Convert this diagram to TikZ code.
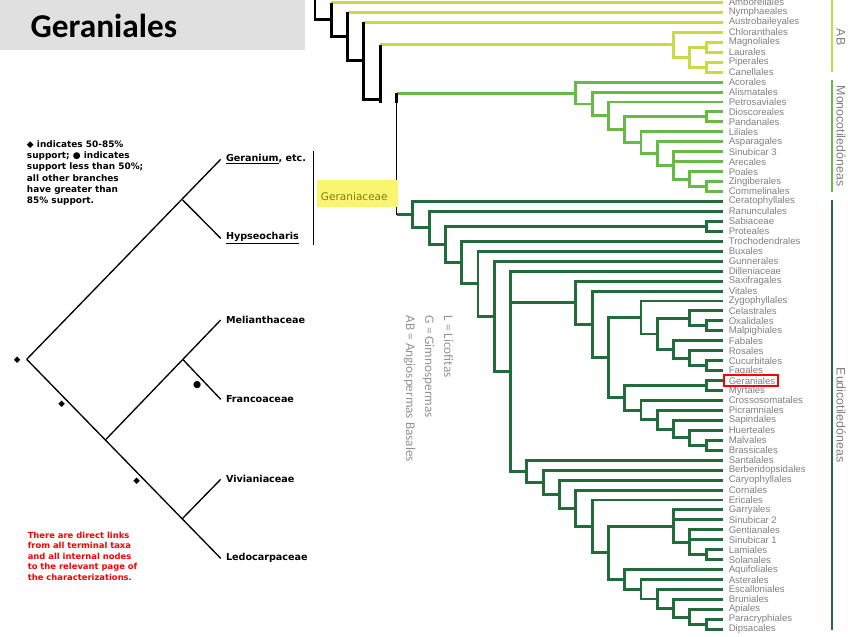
\documentclass[tikz,border=0pt]{standalone}
\usepackage{fontspec}
\setmainfont{Liberation Sans}
\newfontfamily\titlefont{Carlito}
\newfontfamily\verdfont{DejaVu Sans}
\definecolor{abcol}{RGB}{200,218,70}
\definecolor{monocol}{RGB}{104,186,72}
\definecolor{eudicol}{RGB}{34,108,60}
\definecolor{labelgray}{RGB}{128,128,128}
\definecolor{boxgray}{RGB}{224,224,224}
\definecolor{boxyellow}{RGB}{250,245,110}
\definecolor{olive}{RGB}{125,125,20}
\tikzset{
  taxon/.style = {anchor=west, inner xsep=4.5pt, inner ysep=0pt,
    font=\fontsize{7.2}{7.2}\selectfont, text=labelgray},
  ab/.style = {draw=abcol, line width=2.2pt},
  mono/.style = {draw=monocol, line width=2.2pt},
  eudi/.style = {draw=eudicol, line width=2.2pt},
  stem/.style = {draw=black, line width=2.2pt},
  cladelabel/.style = {rotate=-90, text=labelgray, font=\fontsize{9.3}{9.3}\selectfont},
  keytext/.style = {rotate=-90, anchor=north west, align=left, text=labelgray!85,
    font=\titlefont\fontsize{9.9}{14.3}\selectfont},
  lefttaxon/.style = {anchor=west, inner xsep=3.8pt, font=\verdfont\bfseries\fontsize{7.2}{7.2}\selectfont},
  twig/.style = {draw=black, line width=1pt},
  supportmark/.style = {inner sep=0pt, font=\verdfont\fontsize{6.5}{6.5}\selectfont},
  smallnote/.style = {anchor=north west, align=left, inner sep=0pt,
    font=\verdfont\bfseries\fontsize{6.7}{8.5}\selectfont}
}

\begin{document}
\begin{tikzpicture}[x=0.75pt,y=-0.75pt]
  \useasboundingbox (0,0) rectangle (848,636);
  % title bar
  \fill[boxgray] (0,0) rectangle (305,50);
  \node[anchor=west, font=\titlefont\bfseries\fontsize{25}{25}\selectfont] (title) at (26,26) {Geraniales};

  % terminal taxa of the big tree
  \foreach \name [count=\i from 0] in {Amborellales,Nymphaeales,Austrobaileyales,Chloranthales,
    Magnoliales,Laurales,Piperales,Canellales,Acorales,Alismatales,Petrosaviales,Dioscoreales,
    Pandanales,Liliales,Asparagales,Sinubicar 3,Arecales,Poales,Zingiberales,Commelinales,
    Ceratophyllales,Ranunculales,Sabiaceae,Proteales,Trochodendrales,Buxales,Gunnerales,
    Dilleniaceae,Saxifragales,Vitales,Zygophyllales,Celastrales,Oxalidales,Malpighiales,
    Fabales,Rosales,Cucurbitales,Fagales,Geraniales,Myrtales,Crossosomatales,Picramniales,
    Sapindales,Huerteales,Malvales,Brassicales,Santalales,Berberidopsidales,Caryophyllales,
    Cornales,Ericales,Garryales,Sinubicar 2,Gentianales,Sinubicar 1,Lamiales,Solanales,
    Aquifoliales,Asterales,Escalloniales,Bruniales,Apiales,Paracryphiales,Dipsacales}
    { \node[taxon] (t\i) at (722.5,2.5+9.95*\i) {\name}; }

  % inner nodes (column 315+16.3*k)
  \coordinate (N0) at (315,0);
  \coordinate (N1) at (315+16.3*1,19.6);
  \coordinate (N2) at (315+16.3*2,36.7);
  \coordinate (N3) at (315+16.3*3,60.9);
  \coordinate (N4) at (315+16.3*4,99.3);
  \coordinate (N4end) at (315+16.3*4,103);
  \coordinate (N5) at (315+16.3*5,153.9);
  \coordinate (M1) at (315+16.3*22,44.8);
  \coordinate (M2) at (315+16.3*23,57.25);
  \coordinate (M3) at (315+16.3*24,47.3);
  \coordinate (M4) at (315+16.3*24,67.2);
  \coordinate (MO1) at (315+16.3*16,93.05);
  \coordinate (MO2) at (315+16.3*17,104);
  \coordinate (MO3) at (315+16.3*18,115.9);
  \coordinate (MO4) at (315+16.3*19,129.8);
  \coordinate (MO5) at (315+16.3*24,116.9);
  \coordinate (MO6) at (315+16.3*20,142.7);
  \coordinate (MO7) at (315+16.3*21,153.6);
  \coordinate (MO8) at (315+16.3*22,165.4);
  \coordinate (MO9) at (315+16.3*23,179.1);
  \coordinate (MO10) at (315+16.3*24,186.6);
  \coordinate (E0) at (315+16.3*6,214.7);
  \coordinate (E1) at (315+16.3*7,227.9);
  \coordinate (E2) at (315+16.3*8,244.4);
  \coordinate (E2a) at (315+16.3*24,226.4);
  \coordinate (E3) at (315+16.3*9,262.5);
  \coordinate (E4) at (315+16.3*10,283.7);
  \coordinate (E5) at (315+16.3*11,316.2);
  \coordinate (E6) at (315+16.3*12,371.2);
  \coordinate (SR) at (315+16.3*16,302.7);
  \coordinate (SR2) at (315+16.3*17,324.4);
  \coordinate (R) at (315+16.3*18,357.7);
  \coordinate (FAB) at (315+16.3*20,317.5);
  \coordinate (FAB2) at (315+16.3*21,334);
  \coordinate (COM) at (315+16.3*23,318.4);
  \coordinate (COM2) at (315+16.3*24,325.9);
  \coordinate (NF) at (315+16.3*22,349.5);
  \coordinate (NF2) at (315+16.3*23,358.2);
  \coordinate (NF3) at (315+16.3*24,365.7);
  \coordinate (MAL) at (315+16.3*19,397.9);
  \coordinate (MAL1) at (315+16.3*24,385.6);
  \coordinate (MAL2) at (315+16.3*20,410.1);
  \coordinate (MAL3) at (315+16.3*21,419.8);
  \coordinate (MAL4) at (315+16.3*22,429.1);
  \coordinate (MAL5) at (315+16.3*23,437.8);
  \coordinate (MAL6) at (315+16.3*24,445.3);
  \coordinate (SA) at (315+16.3*13,471.2);
  \coordinate (SA2) at (315+16.3*14,482.2);
  \coordinate (SA3) at (315+16.3*15,494.2);
  \coordinate (AS) at (315+16.3*16,508.2);
  \coordinate (AS2) at (315+16.3*17,526.4);
  \coordinate (EA) at (315+16.3*18,552.8);
  \coordinate (LAM) at (315+16.3*22,526.1);
  \coordinate (LAM2) at (315+16.3*23,542.3);
  \coordinate (LAM3) at (315+16.3*24,554.7);
  \coordinate (CAM) at (315+16.3*19,579.5);
  \coordinate (CAM2) at (315+16.3*20,589.4);
  \coordinate (CAM3) at (315+16.3*21,599);
  \coordinate (CAM4) at (315+16.3*22,608.4);
  \coordinate (CAM5) at (315+16.3*23,617.1);
  \coordinate (CAM6) at (315+16.3*24,624.6);

  % basal angiosperms
  \draw[ab] (N1 |- t0.west) -- (t0.west);
  \draw[ab] (N2 |- t1.west) -- (t1.west);
  \draw[ab] (N3 |- t2.west) -- (t2.west);
  \draw[ab] (N4 |- M1) -- (M1);
  \foreach \p/\c in {M1/t3.west,M1/M2,M2/M3,M2/M4,M3/t4.west,M3/t5.west,M4/t6.west,M4/t7.west}
    { \draw[ab] (\p) |- (\c); }
  \draw[stem] (N0) |- (N1);
  \draw[stem] (N1 |- t0.west) |- (N2);
  \draw[stem] (N2 |- t1.west) |- (N3);
  \draw[stem] (N3 |- t2.west) |- (N4);
  \draw[stem] (N4 |- M1) -- (N4end);

  % monocots
  \draw[mono] (N5 |- MO1) -- (MO1);
  \foreach \p/\c in {MO1/t8.west,MO1/MO2,MO2/t9.west,MO2/MO3,MO3/t10.west,MO3/MO4,MO4/MO5,
    MO4/MO6,MO5/t11.west,MO5/t12.west,MO6/t13.west,MO6/MO7,MO7/t14.west,MO7/MO8,MO8/t15.west,
    MO8/t16.west,MO8/MO9,MO9/t17.west,MO9/MO10,MO10/t18.west,MO10/t19.west}
    { \draw[mono] (\p) |- (\c); }

  % eudicots
  \draw[eudi] (N5 |- E0) -- (E0);
  \foreach \p/\c in {E0/t20.west,E0/E1,E1/t21.west,E1/E2,E2/E2a,E2/E3,E2a/t22.west,E2a/t23.west,
    E3/t24.west,E3/E4,E4/t25.west,E4/E5,E5/t26.west,E5/E6,E6/t27.west,E6/SR,E6/SA,SR/t28.west,
    SR/SR2,SR2/t29.west,SR2/R,R/FAB,R/MAL,FAB/t30.west,FAB/FAB2,FAB2/COM,FAB2/NF,COM/t31.west,
    COM/COM2,COM2/t32.west,COM2/t33.west,NF/t34.west,NF/NF2,NF2/t35.west,NF2/NF3,NF3/t36.west,
    NF3/t37.west,MAL/MAL1,MAL/MAL2,MAL1/t38.west,MAL1/t39.west,MAL2/t40.west,MAL2/MAL3,
    MAL3/t41.west,MAL3/MAL4,MAL4/t42.west,MAL4/MAL5,MAL5/t43.west,MAL5/MAL6,MAL6/t44.west,
    MAL6/t45.west,SA/t46.west,SA/SA2,SA2/t47.west,SA2/SA3,SA3/t48.west,SA3/AS,AS/t49.west,
    AS/AS2,AS2/t50.west,AS2/EA,EA/LAM,EA/CAM,LAM/t51.west,LAM/t52.west,LAM/LAM2,LAM2/t53.west,
    LAM2/t54.west,LAM2/LAM3,LAM3/t55.west,LAM3/t56.west,CAM/t57.west,CAM/CAM2,CAM2/t58.west,
    CAM2/CAM3,CAM3/t59.west,CAM3/CAM4,CAM4/t60.west,CAM4/CAM5,CAM5/t61.west,CAM5/CAM6,
    CAM6/t62.west,CAM6/t63.west}
    { \draw[eudi] (\p) |- (\c); }

  % stub and thin link between monocots and eudicots
  \draw[black, line width=0.8pt] (N5 |- MO1) -- (N5 |- E0);
  \draw[stem] (N5 |- MO1) -- ++(0,10);

  % highlight
  \draw[red, line width=1.5pt] ([xshift=1pt,yshift=-1.5pt]t38.south west) rectangle ([xshift=-2.5pt,yshift=1.5pt]t38.north east);

  % clade brackets
  \draw[ab] (832,0) -- (832,72);
  \draw[mono] (832,80) -- (832,192);
  \draw[eudi] (832,200) -- (832,630);
  \node[cladelabel] (ablabel) at (841,37) {AB};
  \node[cladelabel] (monolabel) at (841,136) {Monocotiledóneas};
  \node[cladelabel] (eudilabel) at (841,415) {Eudicotiledóneas};

  % key
  \node[keytext] (key) at (458,311) {L = Licofitas\\G = Gimnospermas\\AB = Angiospermas Basales};

  % Geraniales tree
  \coordinate (root) at (26.7,359.3);
  \node[lefttaxon] (geranium) at (220.7,159.3) {\underline{Geranium}, etc.};
  \node[lefttaxon] (hypseo) at (220.7,238.3) {\underline{Hypseocharis}};
  \node[lefttaxon] (melian) at (220.7,320) {Melianthaceae};
  \node[lefttaxon] (franco) at (220.7,399.3) {Francoaceae};
  \node[lefttaxon] (vivian) at (220.7,479.3) {Vivianiaceae};
  \node[lefttaxon] (ledo) at (220.7,558.3) {Ledocarpaceae};
  \coordinate (gnode) at (182.7,200);
  \coordinate (onode) at (106,439.3);
  \coordinate (mnode) at (182.7,359.3);
  \coordinate (vnode) at (182.7,518.3);
  \draw[twig] (root) -- (geranium.west);
  \draw[twig] (root) -- (ledo.west);
  \draw[twig] (gnode) -- (hypseo.west);
  \draw[twig] (onode) -- (melian.west);
  \draw[twig] (mnode) -- (franco.west);
  \draw[twig] (vnode) -- (vivian.west);
  \node[supportmark] (rootmark) at (17.3,360) {◆};
  \node[supportmark] (omark) at (61.7,404) {◆};
  \node[supportmark] (vmark) at (136.7,481.7) {◆};
  \node[supportmark, font=\verdfont\fontsize{7}{7}\selectfont] (mmark) at (197.3,385) {●};

  % Geraniaceae bracket
  \draw[black, line width=0.8pt] (313.3,150.7) -- (313.3,245);
  \fill[boxyellow] (317.3,180) rectangle (398,206.7);
  \node[anchor=west, inner sep=0pt, text=olive, font=\verdfont\fontsize{7.9}{7.9}\selectfont] (geraniaceae) at (320.7,196.7) {Geraniaceae};

  % notes
  \node[smallnote] (support) at (26.7,140) {◆ indicates 50-85\%\\support; ● indicates\\support less than 50\%;\\all other branches\\have greater than\\85\% support.};
  \node[smallnote, text=red, font=\verdfont\bfseries\fontsize{6.3}{7.9}\selectfont] (links) at (27.5,531.5) {There are direct links\\from all terminal taxa\\and all internal nodes\\to the relevant page of\\the characterizations.};
\end{tikzpicture}
\end{document}
